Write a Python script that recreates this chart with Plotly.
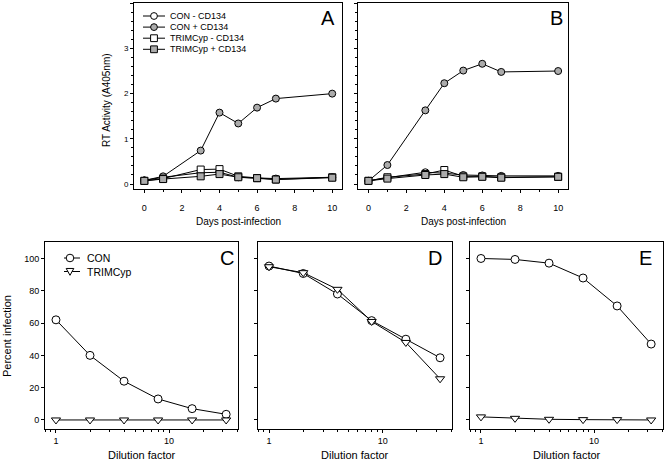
import plotly.graph_objects as go

days = [0, 1, 3, 4, 5, 6, 7, 10]
a_con_minus = [0.08, 0.15, 0.25, 0.26, 0.15, 0.13, 0.12, 0.15]
a_con_plus = [0.08, 0.17, 0.74, 1.58, 1.34, 1.69, 1.89, 2.00]
a_trim_minus = [0.07, 0.12, 0.32, 0.33, 0.17, 0.13, 0.10, 0.15]
a_trim_plus = [0.07, 0.11, 0.17, 0.22, 0.15, 0.13, 0.10, 0.14]

b_con_minus = [0.07, 0.14, 0.26, 0.24, 0.20, 0.19, 0.18, 0.18]
b_con_plus = [0.07, 0.42, 1.63, 2.23, 2.51, 2.66, 2.48, 2.50]
b_trim_minus = [0.07, 0.15, 0.22, 0.31, 0.17, 0.17, 0.15, 0.16]
b_trim_plus = [0.07, 0.12, 0.20, 0.22, 0.15, 0.16, 0.14, 0.16]

dilution = [1, 2, 4, 8, 16, 32]
c_con = [62, 40, 24, 13, 7, 3.5]
c_trim = [0, 0, 0, 0, 0, 0]
d_con = [95.3, 90.7, 78, 61.5, 50, 38.5]
d_trim = [94.9, 91.2, 80.9, 61, 48, 25.5]
e_con = [100, 99.4, 97.1, 87.9, 70.6, 47]
e_trim = [1.9, 1.0, 0.4, 0.2, 0.2, 0]

rt_names = ["CON - CD134", "CON + CD134", "TRIMCyp - CD134", "TRIMCyp + CD134"]
dil_names = ["CON", "TRIMCyp"]

FONT = "Liberation Sans, Arial, sans-serif"
GRAY = "#ababab"
W, H = 664, 463

fig = go.Figure()

rt_syms = ["circle", "circle", "square", "square"]
rt_fills = ["white", GRAY, "white", GRAY]


def rt_traces(xa, ya, series):
    for s, n, sy, fc in zip(series, rt_names, rt_syms, rt_fills):
        fig.add_trace(go.Scatter(
            x=days, y=s, mode="lines+markers", name=n, xaxis=xa, yaxis=ya,
            line=dict(color="black", width=1),
            marker=dict(symbol=sy, size=7, color=fc, line=dict(color="black", width=1))))


rt_traces("x", "y", [a_con_minus, a_con_plus, a_trim_minus, a_trim_plus])
rt_traces("x2", "y2", [b_con_minus, b_con_plus, b_trim_minus, b_trim_plus])

dil_syms = ["circle", "triangle-down"]


def dil_traces(xa, ya, con, trim):
    for s, n, sy in zip([con, trim], dil_names, dil_syms):
        fig.add_trace(go.Scatter(
            x=dilution, y=s, mode="lines+markers", name=n, xaxis=xa, yaxis=ya,
            line=dict(color="black", width=1),
            marker=dict(symbol=sy, size=8, color="white", line=dict(color="black", width=1))))


dil_traces("x3", "y3", c_con, c_trim)
dil_traces("x4", "y4", d_con, d_trim)
dil_traces("x5", "y5", e_con, e_trim)


def px(x):
    return x / W


def py(y):
    return 1 - y / H


def dx(a, b):
    return [px(a), px(b)]


def dy(top, bottom):
    return [py(bottom), py(top)]


def tf(size):
    return dict(family=FONT, size=size, color="black")


common = dict(showline=True, linecolor="black", linewidth=1, mirror=True,
              ticks="outside", ticklen=3, tickcolor="black", tickwidth=1,
              showgrid=False, zeroline=False, automargin=False)

rt_x = dict(common, range=[-0.55, 10.52], tickvals=[0, 2, 4, 6, 8, 10], tickfont=tf(9),
            ticklabelstandoff=7,
            minor=dict(ticks="outside", ticklen=2, tickcolor="black", dtick=1, tick0=0))
rt_y = dict(common, range=[-0.11, 4.005], tickvals=[0, 1, 2, 3, 4], tickfont=tf(8),
            minor=dict(ticks="outside", ticklen=2, tickcolor="black", dtick=0.2, tick0=0))

log_minor = [0.8, 0.9, 2, 3, 4, 5, 6, 7, 8, 9, 20, 30, 40]
dil_x = dict(common, type="log", range=[-0.097, 1.61], tickvals=[1, 10], ticktext=["1", "10"],
             tickfont=tf(9),
             minor=dict(ticks="outside", ticklen=2, tickcolor="black", tickvals=log_minor))
dil_y = dict(common, range=[-5.6, 110.2], tickvals=[0, 20, 40, 60, 80, 100], tickfont=tf(9))

fig.update_layout(
    width=W, height=H, margin=dict(l=0, r=0, t=0, b=0, autoexpand=False),
    paper_bgcolor="white", plot_bgcolor="white", showlegend=False,
    font=dict(family=FONT, color="black"),
    xaxis=dict(rt_x, domain=dx(134, 342), anchor="y"),
    yaxis=dict(rt_y, domain=dy(3, 189), anchor="x"),
    xaxis2=dict(rt_x, domain=dx(358, 568), anchor="y2"),
    yaxis2=dict(rt_y, domain=dy(3, 189), anchor="x2", showticklabels=False),
    xaxis3=dict(dil_x, domain=dx(45, 238), anchor="y3"),
    yaxis3=dict(dil_y, domain=dy(242, 429), anchor="x3"),
    xaxis4=dict(dil_x, domain=dx(258, 452), anchor="y4"),
    yaxis4=dict(dil_y, domain=dy(242, 429), anchor="x4", showticklabels=False),
    xaxis5=dict(dil_x, domain=dx(470, 663), anchor="y5"),
    yaxis5=dict(dil_y, domain=dy(242, 429), anchor="x5", showticklabels=False),
)


def text(t, x, y, size, xanchor="center", angle=0):
    fig.add_annotation(text=t, x=px(x), y=py(y), xref="paper", yref="paper",
                       xanchor=xanchor, yanchor="middle", showarrow=False,
                       textangle=angle, font=tf(size))


# axis titles
text("Days post-infection", 238, 221, 10)
text("Days post-infection", 463, 221, 10)
text("RT Activity (A405nm)", 107, 100, 10, angle=-90)
text("Dilution factor", 142, 455, 11)
text("Dilution factor", 355, 455, 11)
text("Dilution factor", 567, 455, 11)
text("Percent infection", 7, 336, 11, angle=-90)

# panel letters
for t, x, y in [("A", 337, 18), ("B", 565, 18), ("C", 236, 258), ("D", 444, 258), ("E", 654, 258)]:
    text(t, x, y, 20, xanchor="right")


# legend keys (decoration)
def key_line(x0, x1, y):
    fig.add_shape(type="line", xref="paper", yref="paper", x0=px(x0), x1=px(x1),
                  y0=py(y), y1=py(y), line=dict(color="black", width=1))


def key_marker(sym, cx, cy, r, fill):
    ln = dict(color="black", width=1)
    if sym == "circle":
        fig.add_shape(type="circle", xref="paper", yref="paper",
                      x0=px(cx - r), x1=px(cx + r), y0=py(cy + r), y1=py(cy - r),
                      fillcolor=fill, line=ln)
    elif sym == "square":
        fig.add_shape(type="rect", xref="paper", yref="paper",
                      x0=px(cx - r), x1=px(cx + r), y0=py(cy + r), y1=py(cy - r),
                      fillcolor=fill, line=ln)
    else:
        path = "M %f,%f L %f,%f L %f,%f Z" % (px(cx - r), py(cy - r * 0.8),
                                               px(cx + r), py(cy - r * 0.8),
                                               px(cx), py(cy + r))
        fig.add_shape(type="path", xref="paper", yref="paper", path=path,
                      fillcolor=fill, line=ln)


for i, (n, sy, fc) in enumerate(zip(rt_names, rt_syms, rt_fills)):
    yy = 16 + i * 11.1
    key_line(143, 165, yy)
    key_marker(sy, 154, yy, 3.4, fc)
    text(n, 168, yy, 9, xanchor="left")

for i, (n, sy) in enumerate(zip(dil_names, dil_syms)):
    yy = 258 + i * 13.5
    key_line(64, 80, yy)
    key_marker(sy, 70, yy, 3.8, "white")
    text(n, 85, yy, 10.5, xanchor="left")

fig.write_html("out.html",
               config={"displayModeBar": False, "staticPlot": True},
               post_script="document.body.style.margin='0';document.body.style.overflow='hidden';")
